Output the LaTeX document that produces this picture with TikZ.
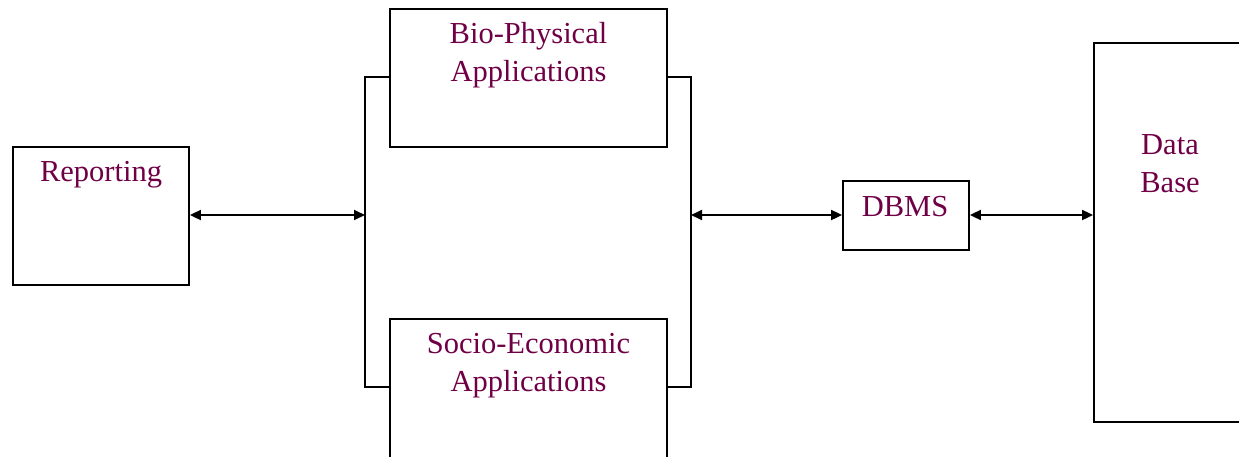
\documentclass[tikz,border=0pt]{standalone}
\usepackage{fontspec}
\setmainfont{Liberation Serif}
\usetikzlibrary{arrows.meta}
\definecolor{labelred}{RGB}{112,0,70}
\begin{document}
\begin{tikzpicture}[x=1pt,y=-1pt,
  box/.style={draw,line width=1.8pt,inner sep=0pt},
  txt/.style={text=labelred,font=\fontsize{30.5}{38}\selectfont,align=center,anchor=base,inner sep=0pt},
  link/.style={line width=1.8pt},
  tip/.style={Triangle[length=11pt,width=10pt]},
  arr/.style={line width=1.8pt,{Triangle[length=11pt,width=10pt]}-{Triangle[length=11pt,width=10pt]}}]
  \useasboundingbox (0,0) rectangle (1239,456);
  \clip (0,0) rectangle (1239,456);

  % boxes
  \node[box,minimum width=176pt,minimum height=138pt] (rep) at (101,216) {};
  \node[box,minimum width=277pt,minimum height=138pt] (bio) at (528.5,78) {};
  \node[box,minimum width=277pt,minimum height=200pt] (soc) at (528.5,419) {};
  \node[box,minimum width=126pt,minimum height=69pt] (dbms) at (906,215.5) {};
  \node[box,minimum width=220pt,minimum height=379pt] (db) at (1204,232.5) {};

  % labels (two-line labels sit on the baseline of their last line)
  \node[txt] (trep) at (101,181) {Reporting};
  \node[txt] (tbio) at (528.5,81) {Bio-Physical\\Applications};
  \node[txt] (tsoc) at (528.5,391) {Socio-Economic\\Applications};
  \node[txt] (tdbms) at (905,216) {DBMS};
  \node[txt] (tdb) at (1170,192) {Data\\Base};

  % brackets joining the two application boxes
  \coordinate (lt) at (365,77);
  \coordinate (lb) at (365,387);
  \coordinate (lm) at (365,215);
  \coordinate (rt) at (691,77);
  \coordinate (rb) at (691,387);
  \coordinate (rm) at (691,215);
  \draw[link] (bio.west |- lt) -- (lt) -- (lb) -- (soc.west |- lb);
  \draw[link] (bio.east |- rt) -- (rt) -- (rb) -- (soc.east |- rb);

  % connectors
  \draw[arr] (rep.east |- lm) -- (lm);
  \draw[arr] (rm) -- (dbms.west |- rm);
  \draw[arr] (dbms.east |- rm) -- (db.west |- rm);
\end{tikzpicture}
\end{document}
